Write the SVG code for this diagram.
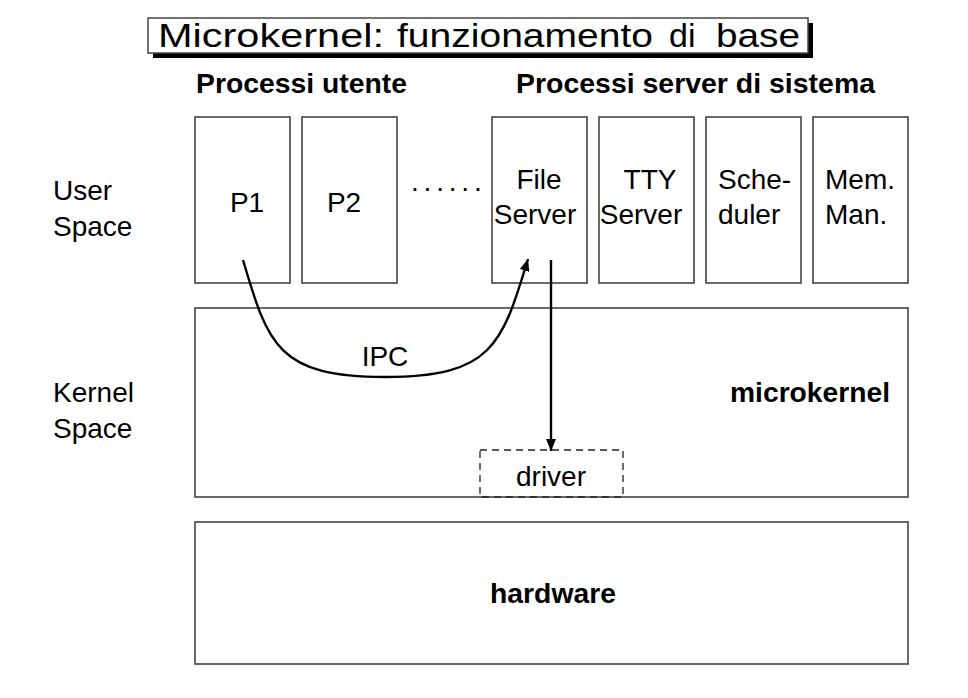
<svg xmlns="http://www.w3.org/2000/svg" width="968" height="698" viewBox="0 0 968 698">
<defs>
<style>
.box{fill:#fff;stroke:#444;stroke-width:1.6}
.t{font-family:"Liberation Sans",Arial,sans-serif;font-size:28px;fill:#000}
.b{font-weight:bold}
.m{text-anchor:middle}
.tt{font-size:34px}
.conn{fill:none;stroke:#000;stroke-width:2.4}
</style>
<marker id="ah" viewBox="0 0 12 10" refX="12" refY="5" markerWidth="12" markerHeight="10" markerUnits="userSpaceOnUse" orient="auto">
<path d="M0,0 L12,5 L0,10 Z" fill="#000"/>
</marker>
</defs>
<rect width="968" height="698" fill="#fff"/>
<g id="title">
<rect x="153" y="23" width="660" height="35" fill="#000"/>
<rect x="148" y="18" width="660" height="35" fill="#fff" stroke="#444" stroke-width="1.5"/>
<text class="t tt" y="47"><tspan x="158" textLength="226" lengthAdjust="spacingAndGlyphs">Microkernel:</tspan> <tspan x="397" textLength="256" lengthAdjust="spacingAndGlyphs">funzionamento</tspan> <tspan x="669">di</tspan> <tspan x="716" textLength="84" lengthAdjust="spacingAndGlyphs">base</tspan></text>
</g>
<g id="headers">
<text class="t b" x="196" y="93" font-size="26" textLength="211" lengthAdjust="spacingAndGlyphs">Processi utente</text>
<text class="t b" x="516" y="93" font-size="26" textLength="359" lengthAdjust="spacingAndGlyphs">Processi server di sistema</text>
</g>
<g id="user-space-label">
<text class="t" x="53" y="200">User</text>
<text class="t" x="53" y="236">Space</text>
</g>
<g id="kernel-space-label">
<text class="t" x="53" y="402">Kernel</text>
<text class="t" x="53" y="438">Space</text>
</g>
<g id="p1"><rect class="box" x="195" y="117" width="95" height="166"/><text class="t m" x="247" y="212">P1</text></g>
<g id="p2"><rect class="box" x="302" y="117" width="95" height="166"/><text class="t m" x="344" y="212">P2</text></g>
<g id="dots"><text class="t" x="411" y="191" letter-spacing="4.8">......</text></g>
<g id="file-server"><rect class="box" x="492" y="117" width="95" height="166"/><text class="t m" x="539" y="189">File</text><text class="t m" x="535" y="224">Server</text></g>
<g id="tty-server"><rect class="box" x="599" y="117" width="95" height="166"/><text class="t m" x="650" y="189">TTY</text><text class="t m" x="641" y="224">Server</text></g>
<g id="scheduler"><rect class="box" x="706" y="117" width="95" height="166"/><text class="t" x="718" y="189">Sche-</text><text class="t" x="718" y="224">duler</text></g>
<g id="mem-man"><rect class="box" x="813" y="117" width="95" height="166"/><text class="t" x="825" y="189">Mem.</text><text class="t" x="825" y="224">Man.</text></g>
<g id="microkernel"><rect class="box" x="195" y="308" width="713" height="189"/><text class="t b" x="730" y="402" font-size="26" textLength="160" lengthAdjust="spacingAndGlyphs">microkernel</text></g>
<g id="driver"><rect x="480" y="450" width="143" height="47" fill="none" stroke="#222" stroke-width="1.3" stroke-dasharray="7,5"/><text class="t m" x="551" y="486">driver</text></g>
<g id="hardware"><rect class="box" x="195" y="522" width="713" height="142"/><text class="t b m" x="553" y="603" font-size="26" textLength="126" lengthAdjust="spacingAndGlyphs">hardware</text></g>
<g id="connectors">
<path class="conn" d="M243,260 C268,345 278,377 385,377 C492,377 502,345 528,259" marker-end="url(#ah)"/>
<line class="conn" x1="551" y1="260" x2="551" y2="451" marker-end="url(#ah)"/>
<text class="t m" x="385" y="366">IPC</text>
</g>
</svg>
